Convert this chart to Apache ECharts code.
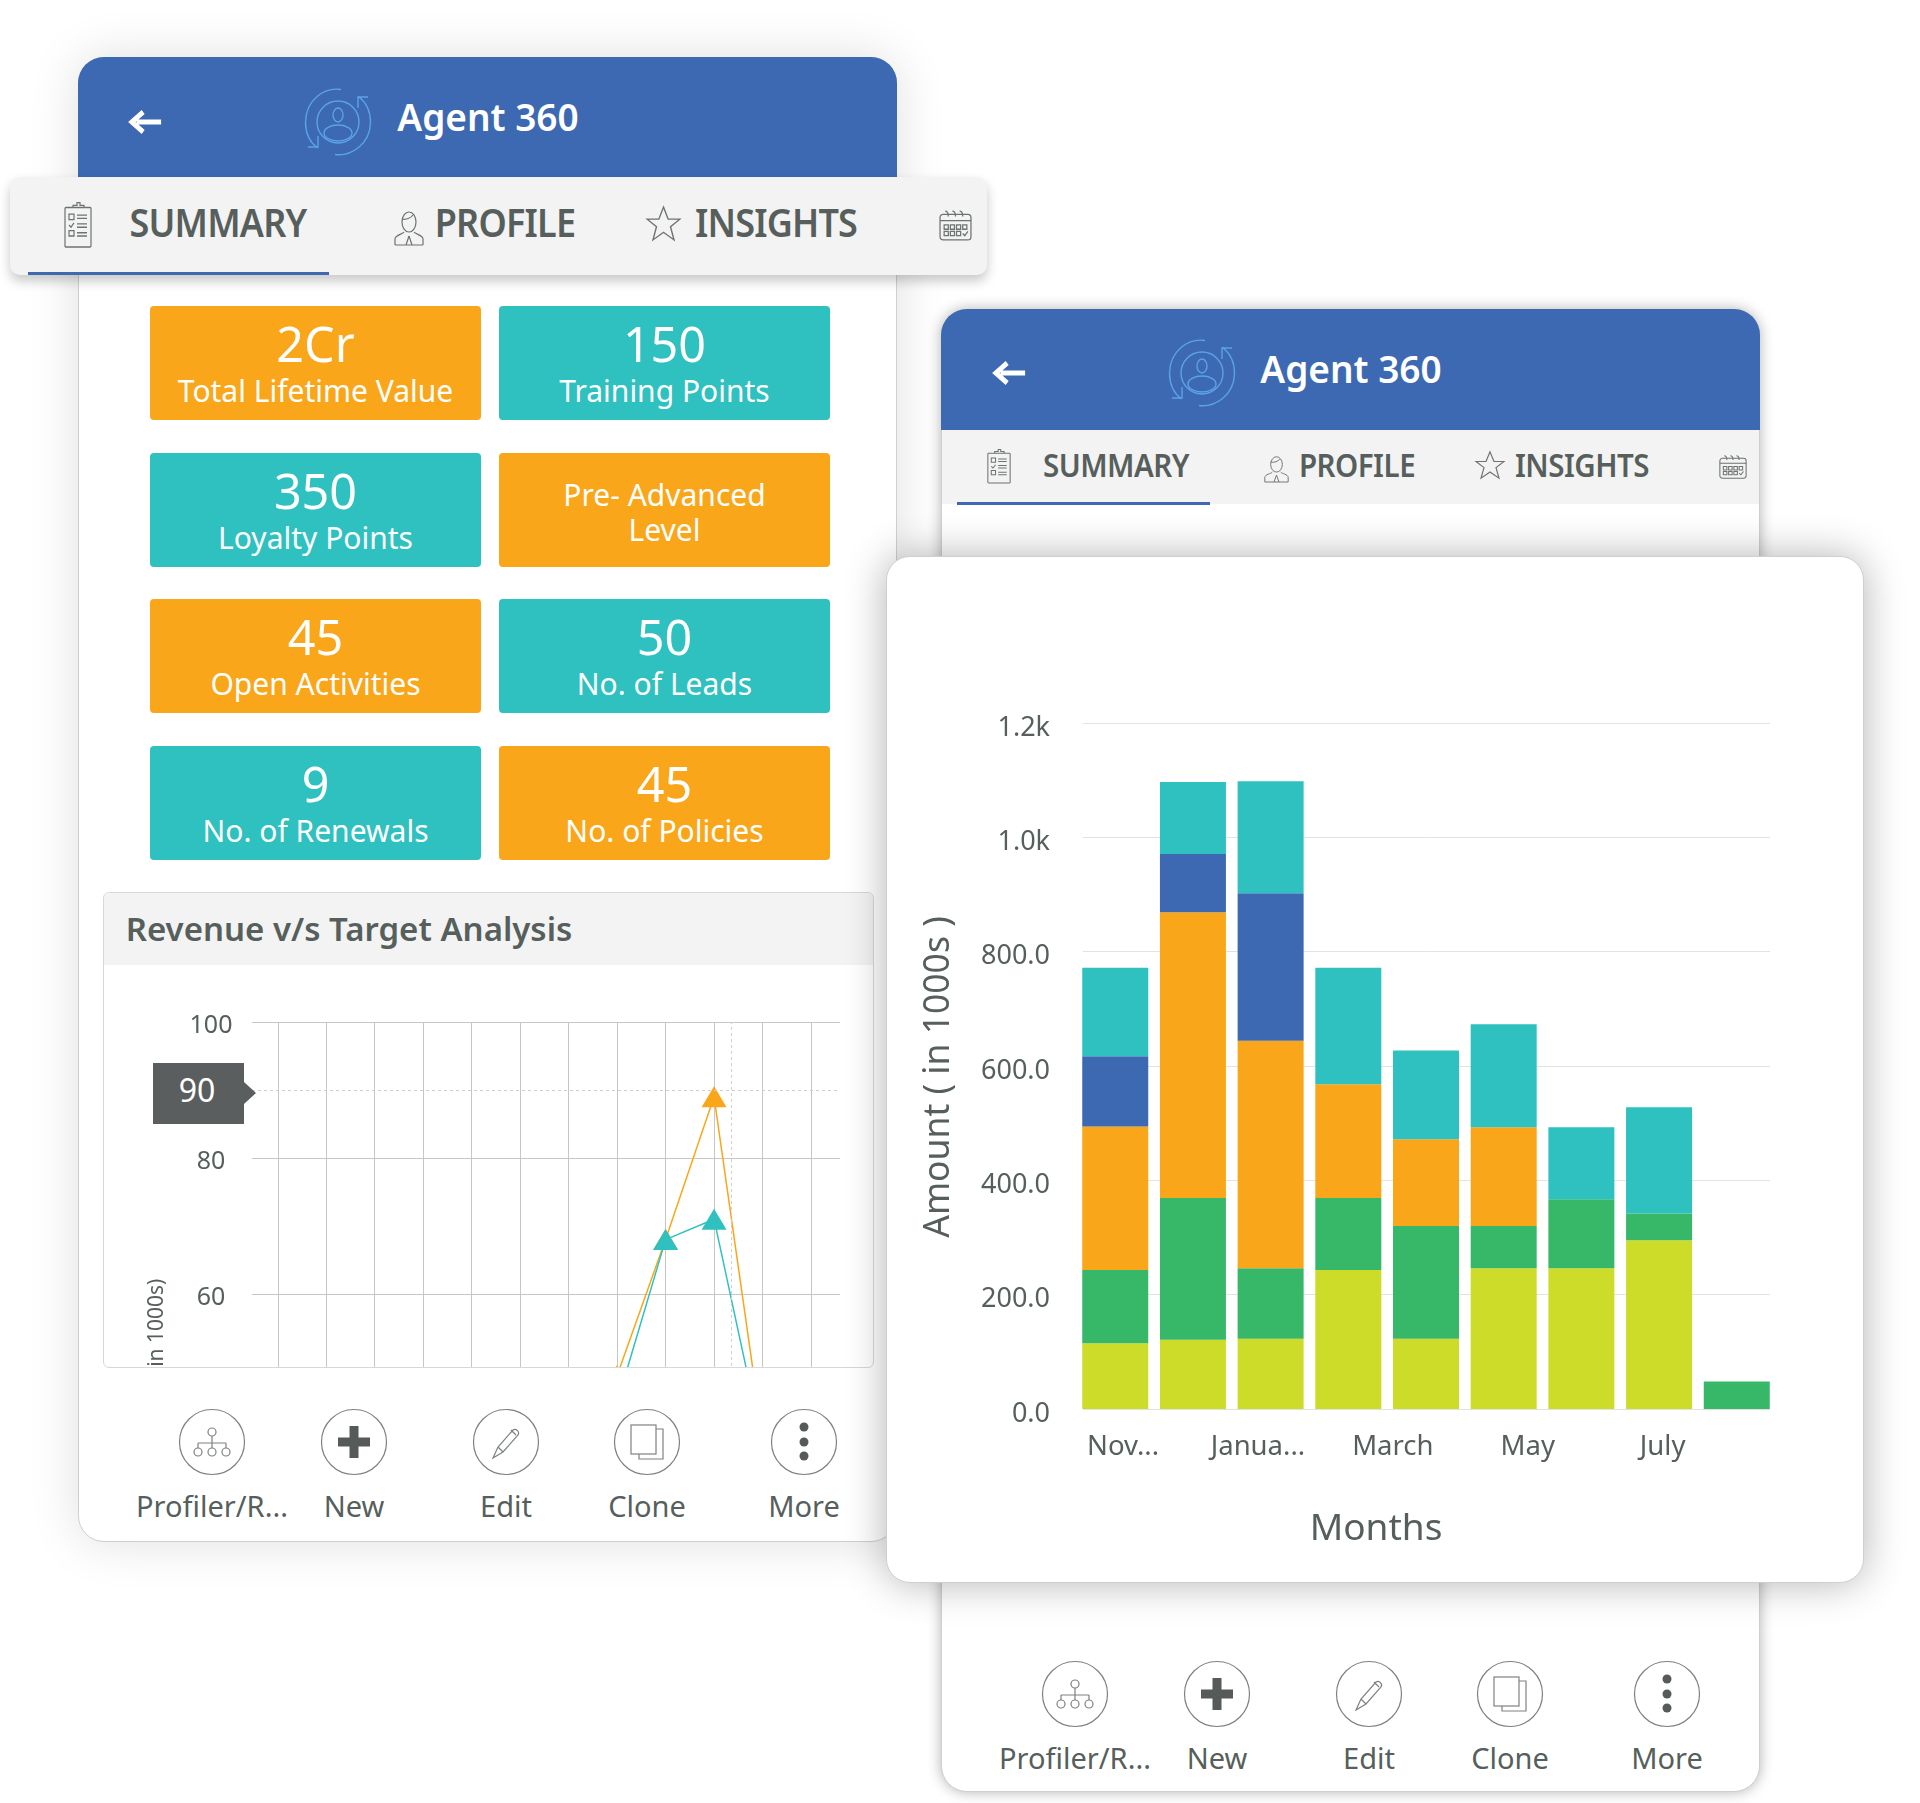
<!DOCTYPE html>
<html>
<head>
<meta charset="utf-8">
<title>Agent 360</title>
<script src="https://cdn.jsdelivr.net/npm/echarts@6/dist/echarts.min.js"></script>
<style>
  html, body { margin: 0; padding: 0; background: #fff; }
  body { position: relative; width: 1920px; height: 1803px; overflow: hidden; font-family: "Noto Sans", sans-serif; }
  .box { position: absolute; box-sizing: border-box; }
  .txt { position: absolute; white-space: nowrap; transform: translate(-50%, -50%); line-height: 1; }
  svg { position: absolute; overflow: visible; }
</style>
</head>
<body>
<script>
// stacked bars, bottom to top
const barMonths = ['Nov', 'Dec', 'Jan', 'Feb', 'Mar', 'Apr', 'May', 'Jun', 'Jul'];
const limeValues = [115, 121, 123, 243, 123, 246, 246, 295, 0];
const greenValues = [128, 248, 123, 126, 197, 74, 121, 47, 48];
const orangeValues = [251, 500, 398, 199, 152, 173, 0, 0, 0];
const blueValues = [123, 102, 258, 0, 0, 0, 0, 0, 0];
const tealValues = [155, 126, 196, 204, 155, 180, 126, 186, 0];
const axisMonths = ['Nov...', 'Dec', 'Janua...', 'Feb', 'March', 'April', 'May', 'June', 'July', 'Aug'];

// revenue v/s target lines, only these points are inside the visible part
const linePositions = [7, 8, 9, 10];
const targetValues = [48, 68, 89, 39];
const revenueValues = [44, 68, 71, 38];

// summary tiles
const tileValues = ['2Cr', '150', '350', '', '45', '50', '9', '45'];
const tileLabels = ['Total Lifetime Value', 'Training Points', 'Loyalty Points', 'Pre- Advanced|Level', 'Open Activities', 'No. of Leads', 'No. of Renewals', 'No. of Policies'];
const tileColors = ['o', 't', 't', 'o', 'o', 't', 't', 'o'];
const actionLabels = ['Profiler/R...', 'New', 'Edit', 'Clone', 'More'];

const ORANGE = '#faa61a', TEAL = '#2fc0c0', BLUE = '#3c69b1', GREEN = '#37b768', LIME = '#cddc28';
const TEXT = '#565f5c', FONT = '"Noto Sans", sans-serif';

function box(x, y, w, h, css, parent) {
  const d = document.createElement('div');
  d.className = 'box';
  d.style.cssText = `left:${x}px;top:${y}px;width:${w}px;height:${h}px;${css || ''}`;
  (parent || document.body).appendChild(d);
  return d;
}

function txt(s, cx, cy, size, color, weight, extra) {
  const d = document.createElement('div');
  d.className = 'txt';
  d.textContent = s;
  d.style.cssText = `left:${cx}px;top:${cy}px;font-size:${size}px;color:${color};font-weight:${weight || 400};${extra || ''}`;
  document.body.appendChild(d);
  return d;
}

function svg(x, y, w, h, vb, inner, z) {
  const wrap = document.createElement('div');
  wrap.innerHTML = `<svg xmlns="http://www.w3.org/2000/svg" viewBox="${vb}" preserveAspectRatio="none" style="left:${x}px;top:${y}px;width:${w}px;height:${h}px;z-index:${z || 0}">${inner}</svg>`;
  document.body.appendChild(wrap.firstChild);
}

const S = 'fill="none" stroke="#6d7371" stroke-width="1.2"';
const clipboardIcon = `<rect x="1" y="5" width="26" height="36" rx="1" ${S}/><path d="M9 5V3h4V0.5h3V3h4v2" ${S}/><path d="M5 11h5v5H5zM5 26h5v5H5zM13 12h10M13 15h10M13 20h10M13 23h10M13 28h10M13 31h10M5 21l2 2 3-4" ${S}/>`;
const personIcon = `<ellipse cx="15" cy="11" rx="7" ry="10" ${S}/><path d="M8 8c4 1 9-1 11-4M1 34V28c0-4 8-5 9-7M29 34V28c0-4-8-5-9-7M1 34h28M15 25l-3 9M15 25l3 9" ${S}/>`;
const starIcon = `<path d="M15 1l4 11h10l-8 7 3 12-9-7-9 7 3-12-8-7h10z" ${S}/>`;
const calendarIcon = `<rect x="1" y="4" width="30" height="24" rx="3" ${S}/><path d="M1 10h30M6 1c3 0 3 3 3 5M13 1c3 0 3 3 3 5M20 1c3 0 3 3 3 5M5 14h4v4H5zM11 14h4v4h-4zM17 14h4v4h-4zM23 14h4v4h-4zM5 20h4v4H5zM11 20h4v4h-4zM17 20h4v4h-4zM23 22l2 2 3-4" ${S}/>`;
const R = 'fill="none" stroke="#5ba3e5" stroke-width="1.4"';
const ringIcon = `<circle cx="33" cy="33" r="21" ${R}/><ellipse cx="33" cy="26" rx="5" ry="7" ${R}/><ellipse cx="33" cy="44" rx="14" ry="8" ${R}/><path d="M36 0.5C20 -2 1 10 0.5 33c0 10 4 20 12 26" ${R}/><path d="M30 65.5c16 2 35-10 35.500-32c0-10-4-20-12-26" ${R}/><path d="M3 58h10V47M63 8H53v11" ${R}/>`;
const arrowIcon = `<path d="M34 11H8M15 1L3 11l12 10" fill="none" stroke="#fff" stroke-width="5"/>`;

const C = 'fill="none" stroke="#7d8280" stroke-width="1.2"';
const actionIcons = [
  `<circle cx="33" cy="33" r="32.500" ${C}/><circle cx="33" cy="23" r="4" ${C}/><path d="M33 27v7M19 34h28M19 34v5M33 34v5M47 34v5" ${C}/><circle cx="19" cy="43" r="4" ${C}/><circle cx="33" cy="43" r="4" ${C}/><circle cx="47" cy="43" r="4" ${C}/>`,
  `<circle cx="33" cy="33" r="32.500" ${C}/><path d="M17 33h32M33 17v32" stroke="#565b5a" stroke-width="9" fill="none"/>`,
  `<circle cx="33" cy="33" r="32.500" ${C}/><path d="M20 49l5-11 15-17c3-2 7 2 5 5L30 43zM25 38l5 5M38 21l5 5" ${C}/>`,
  `<circle cx="33" cy="33" r="32.500" ${C}/><rect x="17" y="16" width="25" height="29" ${C}/><path d="M42 20h7v30H25v-5" ${C}/>`,
  `<circle cx="33" cy="33" r="32.500" ${C}/><circle cx="33" cy="18" r="4.500" fill="#565b5a"/><circle cx="33" cy="33" r="4.500" fill="#565b5a"/><circle cx="33" cy="47" r="4.500" fill="#565b5a"/>`
];

function drawHeader(dx, titleX, titleY, iconY) {
  txt('Agent 360', titleX, titleY, 37, '#fff', 600);
  svg(dx + 129, iconY - 11, 34, 22, '0 0 36 22', arrowIcon);
  svg(dx + 305, iconY - 33, 66, 66, '0 0 66 66', ringIcon);
}

function drawActions(xs, yCircle, yLabel) {
  xs.forEach((cx, i) => {
    svg(cx - 33, yCircle - 33, 66, 66, '0 0 66 66', actionIcons[i]);
    txt(actionLabels[i], cx, yLabel, 29, TEXT);
  });
}

const TAB_BIG = 'letter-spacing:-.8px;transform:translate(-50%,-50%) scaleY(1.08);';
const TAB_SMALL = 'letter-spacing:-.5px;transform:translate(-50%,-50%) scaleY(1.08);';

// left card
box(78, 57, 819, 1484.5, 'background:#fff;border:1px solid #cfcfcf;border-radius:26px;box-shadow:0 0 50px rgba(0,0,0,.13);');
box(78, 57, 819, 121, `background:${BLUE};border-radius:26px 26px 0 0;`);
drawHeader(0, 488, 116, 122);
box(10, 177, 977, 98, 'background:#f3f3f3;border-radius:10px;box-shadow:0 6px 12px rgba(0,0,0,.22);');
box(28, 272, 301, 3, `background:${BLUE};`);
svg(64, 202, 28, 45, '0 0 28 41', clipboardIcon);
svg(394, 211, 30, 34, '0 0 30 34', personIcon);
svg(646, 206, 35, 35, '0 0 30 32', starIcon);
svg(939, 210, 33, 31, '0 0 32 29', calendarIcon);
txt('SUMMARY', 218, 223, 36, TEXT, 600, TAB_BIG);
txt('PROFILE', 505, 223, 36, TEXT, 600, TAB_BIG);
txt('INSIGHTS', 776, 223, 36, TEXT, 600, TAB_BIG);

tileValues.forEach((v, i) => {
  const col = i % 2, row = Math.floor(i / 2);
  const x = col ? 499 : 150, y = 306 + row * 146.5, w = 331;
  box(x, y, w, 114, `background:${tileColors[i] === 'o' ? ORANGE : TEAL};border-radius:4px;`);
  const cx = x + w / 2;
  if (v) {
    txt(v, cx, y + 37, 48.5, '#fff');
    txt(tileLabels[i], cx, y + 85, 30, '#fff');
  } else {
    const parts = tileLabels[i].split('|');
    txt(parts[0], cx, y + 42, 30, '#fff');
    txt(parts[1], cx, y + 77, 30, '#fff');
  }
});

// revenue panel
box(103, 892, 771, 476, 'background:#fff;border:1px solid #d8d8d8;border-radius:6px;');
box(104, 893, 769, 72, 'background:#f3f3f3;border-radius:6px 6px 0 0;');
txt('Revenue v/s Target Analysis', 349, 928, 33, TEXT, 600);
const lineClip = box(104, 965, 769, 402, 'overflow:hidden;border-radius:0 0 6px 6px;');
const lineDom = box(-1, 0, 771, 800, '', lineClip);
box(153, 1063, 91, 61, 'background:#5b5e5e;');
svg(244, 1082, 12, 22, '0 0 12 22', '<path d="M0 0l12 11L0 22z" fill="#5b5e5e"/>');
txt('90', 197, 1090, 32, '#fff');
drawActions([212, 354, 506, 647, 804], 1442, 1505);

// right card
box(941, 309, 819, 1483, 'background:#fff;border:1px solid #cfcfcf;border-radius:26px;box-shadow:0 0 14px rgba(0,0,0,.3);');
box(941, 309, 819, 121, `background:${BLUE};border-radius:26px 26px 0 0;`);
drawHeader(864, 1351, 368, 373);
box(942, 430, 817, 74, 'background:#f3f3f3;');
box(957, 502, 253, 3, `background:${BLUE};`);
svg(987, 449, 24, 34, '0 0 28 41', clipboardIcon);
svg(1264, 456, 25, 26, '0 0 30 34', personIcon);
svg(1475, 451, 30, 28, '0 0 30 32', starIcon);
svg(1719, 455, 28, 24, '0 0 32 29', calendarIcon);
txt('SUMMARY', 1116, 465, 29.5, TEXT, 600, TAB_SMALL);
txt('PROFILE', 1357, 465, 29.5, TEXT, 600, TAB_SMALL);
txt('INSIGHTS', 1582, 465, 29.5, TEXT, 600, TAB_SMALL);
drawActions([1075, 1217, 1369, 1510, 1667], 1694, 1757);

// bar chart card
box(886, 556, 978, 1027, 'background:#fff;border:1px solid #cfcfcf;border-radius:24px;box-shadow:0 0 40px rgba(0,0,0,.3);');
const barDom = box(886, 556, 977, 1027);

function stackSeries(name, values, color) {
  return { name, type: 'bar', stack: 'total', xAxisIndex: 0, yAxisIndex: 0, barWidth: 66, data: values, itemStyle: { color } };
}

// gridlines stop at the outer bar edges, so the bars and the gridlines use separate grids
echarts.init(barDom, null, { renderer: 'canvas' }).setOption({
  animation: false,
  textStyle: { fontFamily: FONT },
  grid: [
    { left: 190.4, width: 699.2, top: 167, height: 686 },
    { left: 197, width: 687, top: 167, height: 686 },
    { left: 203.3, width: 674.5, top: 167, height: 686 }
  ],
  xAxis: [
    { type: 'category', gridIndex: 0, data: barMonths, show: false },
    { type: 'category', gridIndex: 1, show: false, data: barMonths },
    {
      type: 'category', gridIndex: 2, data: axisMonths,
      axisLine: { show: false }, axisTick: { show: false },
      axisLabel: { interval: 1, fontSize: 27.5, color: TEXT, margin: 24, hideOverlap: false },
      name: 'Months', nameLocation: 'middle', nameGap: 102,
      nameTextStyle: { fontSize: 37, color: TEXT, padding: [0, 101, 0, 0] }
    }
  ],
  yAxis: [
    { type: 'value', gridIndex: 0, min: 0, max: 1200, interval: 200, show: false },
    {
      type: 'value', gridIndex: 1, min: 0, max: 1200, interval: 200,
      axisLine: { show: false }, axisTick: { show: false },
      splitLine: { lineStyle: { color: '#e2e2e2', width: 1 } },
      axisLabel: {
        fontSize: 27, color: TEXT, margin: 33, verticalAlign: 'top', lineHeight: 10,
        formatter: v => v >= 1000 ? (v / 1000).toFixed(1) + 'k' : v.toFixed(1)
      },
      name: 'Amount ( in 1000s )', nameLocation: 'middle', nameGap: 126,
      nameTextStyle: { fontSize: 35.5, color: TEXT, padding: [0, 22, 0, 0] }
    },
    { type: 'value', gridIndex: 2, show: false }
  ],
  series: [
    stackSeries('Lime', limeValues, LIME),
    stackSeries('Green', greenValues, GREEN),
    stackSeries('Orange', orangeValues, ORANGE),
    stackSeries('Blue', blueValues, BLUE),
    stackSeries('Teal', tealValues, TEAL)
  ]
});

function linePairs(values) {
  return values.map((v, i) => [linePositions[i], v]);
}

function lineSeries(name, values, color) {
  return {
    name, type: 'line', xAxisIndex: 1, yAxisIndex: 1, data: linePairs(values),
    symbol: 'triangle', symbolSize: [25, 21],
    lineStyle: { color, width: 1.5 }, itemStyle: { color }
  };
}

const dashStyle = { color: '#cfcfcf', type: [3, 3], width: 1 };

echarts.init(lineDom, null, { renderer: 'canvas' }).setOption({
  animation: false,
  textStyle: { fontFamily: FONT },
  grid: [
    { left: 149, width: 588, top: 57, height: 680 },
    { left: 174.8, width: 533.2, top: 57, height: 680 }
  ],
  xAxis: [
    { type: 'value', gridIndex: 0, min: 0, max: 11, show: false },
    {
      type: 'value', gridIndex: 1, min: 0, max: 11, interval: 1,
      axisLine: { show: false }, axisTick: { show: false }, axisLabel: { show: false },
      splitLine: { lineStyle: { color: '#c6c6c6', width: 1 } }
    }
  ],
  yAxis: [
    {
      type: 'value', gridIndex: 0, min: 0, max: 100, interval: 20,
      axisLine: { show: false }, axisTick: { show: false },
      splitLine: { lineStyle: { color: '#c6c6c6', width: 1 } },
      axisLabel: { fontSize: 25, color: TEXT, margin: 41, align: 'center', verticalAlign: 'top', lineHeight: 8 },
      name: 'Amount ( in 1000s)', nameLocation: 'middle', nameGap: 84,
      nameTextStyle: { fontSize: 21, color: TEXT, padding: [0, 18, 0, 0] }
    },
    { type: 'value', gridIndex: 1, min: 0, max: 100, interval: 20, show: false }
  ],
  series: [
    {
      type: 'line', xAxisIndex: 0, yAxisIndex: 0, data: [], silent: true,
      markLine: { silent: true, symbol: 'none', label: { show: false }, lineStyle: dashStyle, data: [{ yAxis: 90 }] }
    },
    {
      type: 'line', xAxisIndex: 1, yAxisIndex: 1, data: [], silent: true,
      markLine: { silent: true, symbol: 'none', label: { show: false }, lineStyle: dashStyle, data: [{ xAxis: 9.36 }] }
    },
    lineSeries('Target', targetValues, ORANGE),
    lineSeries('Revenue', revenueValues, TEAL)
  ]
});
</script>
</body>
</html>
